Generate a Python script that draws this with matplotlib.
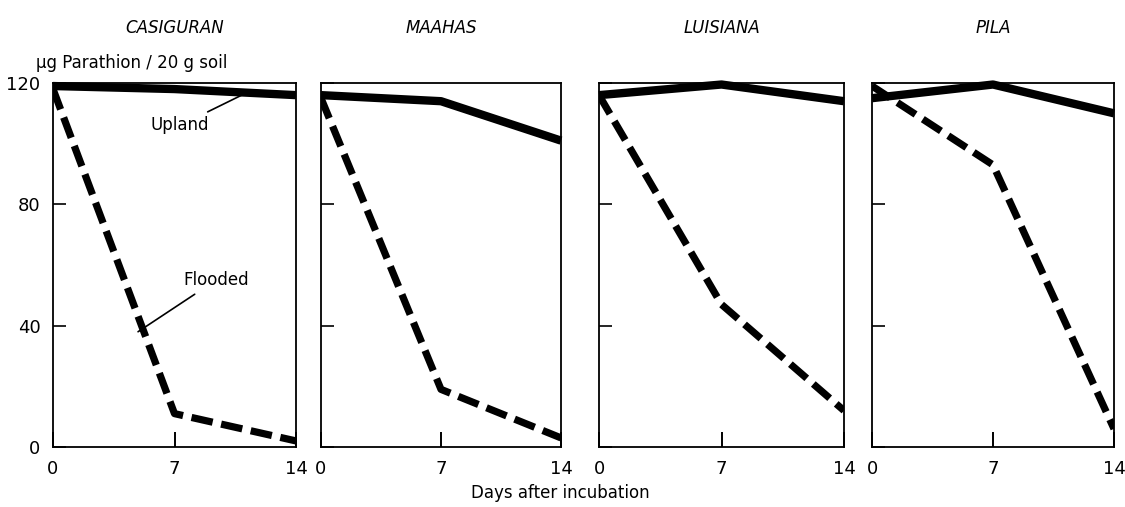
import matplotlib
matplotlib.use("Agg")
import matplotlib.pyplot as plt

plt.rcParams['font.family'] = ['DejaVu Sans']

days = [0, 7, 14]
soils = ["CASIGURAN", "MAAHAS", "LUISIANA", "PILA"]
upland = [
    [119, 118, 116],
    [116, 114, 101],
    [116, 119.5, 114],
    [115, 119.5, 110],
]
flooded = [
    [118, 11, 2],
    [115, 19, 3],
    [116, 47, 12],
    [119, 93, 6],
]
yticks = [0, 40, 80, 120]
xticks = [0, 7, 14]

W, H = 1125, 507
fig = plt.figure(figsize=(W / 100, H / 100), dpi=100)
lefts = [53, 321, 599, 872]
widths = [243, 240, 245, 242]
top, bottom = 83, 447

axes = []
for i, soil in enumerate(soils):
    ax = fig.add_axes([lefts[i] / W, 1 - bottom / H, widths[i] / W, (bottom - top) / H])
    axes.append(ax)
    ax.plot(days, upland[i], color='black', lw=6, solid_capstyle='butt',
            solid_joinstyle='round', clip_on=False)
    ax.plot(days, flooded[i], color='black', lw=5.2, dashes=(3.0, 1.2),
            dash_capstyle='butt', dash_joinstyle='round')
    ax.set_xlim(0, 14)
    ax.set_ylim(0, 120)
    ax.set_xticks(xticks)
    ax.set_yticks(yticks)
    ax.tick_params(axis='y', direction='in', length=9, width=1.2, labelsize=13, pad=9,
                   left=True, right=False)
    ax.tick_params(axis='x', direction='in', length=11, width=1.4, labelsize=13, pad=9,
                   bottom=True, top=False, color='black')
    if i > 0:
        ax.set_yticklabels([])
    for s in ax.spines.values():
        s.set_linewidth(1.3)
    ax.set_title(soil, fontsize=12, style='italic', pad=36)

axes[0].text(-0.07, 1.03, "μg Parathion / 20 g soil", transform=axes[0].transAxes,
             fontsize=12, ha='left', va='bottom')

# annotations
axes[0].annotate("Upland", xy=(11.3, 117.2), xytext=(9.0, 106),
                 fontsize=12, va='center', ha='right',
                 arrowprops=dict(arrowstyle='-', color='black', lw=1.2,
                                 shrinkA=3, shrinkB=0))
axes[0].annotate("Flooded", xy=(4.9, 38), xytext=(7.5, 55),
                 fontsize=12, va='center', ha='left',
                 arrowprops=dict(arrowstyle='-', color='black', lw=1.2,
                                 shrinkA=3, shrinkB=0))

fig.text(560 / W, 1 - 493 / H, "Days after incubation", ha='center', va='center',
         fontsize=12)

fig.savefig("out.png", dpi=100, facecolor='white')
